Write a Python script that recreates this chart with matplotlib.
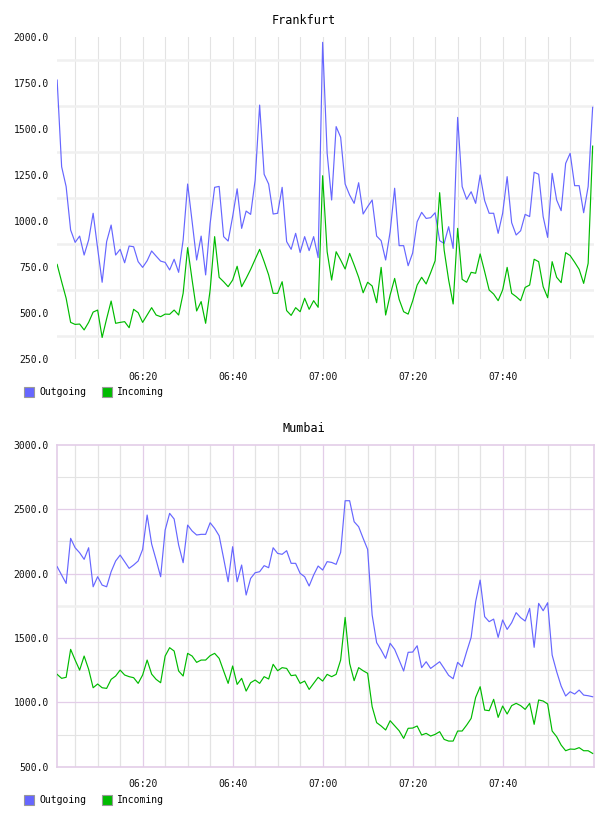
import pandas as pd
import matplotlib
matplotlib.use('Agg')
import matplotlib.pyplot as plt
import matplotlib.dates as mdates
from matplotlib.patches import Rectangle

plt.rcParams['font.family'] = 'DejaVu Sans Mono'

# one sample per minute, 06:01 .. 08:00
times = pd.date_range('2024-01-01 06:01', periods=120, freq='min')

fra_out = [1766, 1295, 1187, 951, 884, 918, 815, 897, 1042, 851,
           667, 888, 978, 815, 846, 773, 864, 860, 779, 748,
           784, 837, 809, 782, 775, 734, 792, 721, 897, 1201,
           996, 788, 918, 707, 987, 1183, 1188, 915, 891, 1024,
           1175, 960, 1054, 1036, 1222, 1630, 1254, 1201, 1038, 1042,
           1183, 888, 846, 933, 829, 915, 839, 915, 801, 1971,
           1368, 1114, 1513, 1455, 1201, 1141, 1096, 1208, 1038, 1078,
           1114, 918, 893, 788, 942, 1178, 866, 866, 757, 826,
           996, 1047, 1014, 1018, 1045, 893, 878, 969, 851, 1563,
           1187, 1118, 1159, 1096, 1250, 1111, 1042, 1042, 933, 1042,
           1241, 991, 924, 947, 1036, 1024, 1265, 1254, 1024, 911,
           1259, 1114, 1056, 1313, 1368, 1192, 1192, 1045, 1187, 1618]

fra_in = [764, 670, 580, 449, 438, 440, 408, 449, 505, 516,
          367, 469, 565, 444, 449, 453, 420, 520, 502, 449,
          489, 529, 489, 480, 494, 493, 516, 489, 607, 855,
          679, 511, 562, 444, 625, 915, 694, 670, 643, 679,
          754, 643, 688, 737, 792, 846, 779, 707, 607, 607,
          670, 513, 487, 529, 507, 580, 520, 567, 531, 1246,
          833, 679, 833, 788, 739, 824, 761, 694, 610, 667,
          647, 556, 748, 489, 598, 688, 574, 507, 494, 565,
          652, 694, 658, 719, 784, 1154, 842, 679, 549, 960,
          683, 667, 721, 716, 821, 725, 625, 603, 567, 625,
          748, 607, 589, 567, 639, 652, 792, 779, 643, 583,
          779, 694, 665, 828, 812, 776, 737, 661, 770, 1407]

mum_out = [2053, 1988, 1923, 2273, 2200, 2161, 2110, 2200, 1897, 1975,
           1910, 1897, 2014, 2097, 2143, 2092, 2040, 2066, 2097, 2187,
           2454, 2229, 2105, 1975, 2337, 2467, 2423, 2221, 2084, 2376,
           2330, 2299, 2304, 2304, 2394, 2350, 2293, 2117, 1936, 2208,
           1936, 2066, 1833, 1962, 2006, 2014, 2061, 2045, 2200, 2156,
           2149, 2177, 2079, 2079, 2001, 1975, 1903, 1988, 2058, 2027,
           2092, 2086, 2071, 2164, 2565, 2565, 2402, 2363, 2273, 2187,
           1678, 1463, 1406, 1341, 1458, 1411, 1328, 1243, 1388, 1390,
           1439, 1269, 1315, 1263, 1289, 1315, 1263, 1209, 1183, 1310,
           1276, 1393, 1504, 1781, 1949, 1665, 1626, 1646, 1504, 1639,
           1566, 1618, 1696, 1657, 1631, 1729, 1427, 1768, 1711, 1773,
           1367, 1238, 1126, 1049, 1082, 1064, 1095, 1056, 1051, 1043]

mum_in = [1217, 1186, 1194, 1411, 1328, 1250, 1359, 1256, 1113, 1142,
          1113, 1108, 1178, 1204, 1250, 1212, 1199, 1191, 1147, 1212,
          1328, 1219, 1178, 1152, 1359, 1424, 1398, 1243, 1204, 1380,
          1359, 1310, 1328, 1328, 1362, 1380, 1341, 1243, 1147, 1282,
          1139, 1186, 1087, 1152, 1173, 1147, 1199, 1181, 1295, 1245,
          1269, 1263, 1207, 1212, 1147, 1165, 1100, 1147, 1194, 1165,
          1217, 1199, 1217, 1328, 1659, 1302, 1168, 1269, 1245, 1225,
          966, 842, 816, 785, 857, 818, 779, 720, 798, 800,
          816, 746, 759, 738, 751, 772, 712, 699, 699, 777,
          777, 823, 875, 1038, 1121, 940, 935, 1023, 883, 971,
          909, 974, 992, 974, 945, 992, 829, 1018, 1010, 987,
          777, 733, 668, 624, 637, 635, 648, 624, 624, 603]

fra_yticks = [250, 500, 750, 1000, 1250, 1500, 1750, 2000]
mum_yticks = [500, 1000, 1500, 2000, 2500, 3000]

BLUE = '#6666ff'
GREEN = '#00bb00'
PURPLE = '#e3cde8'
GREY = '#e3e3e3'
PALE = '#f0f0f0'

W, H = 608, 816
fig = plt.figure(figsize=(W / 100, H / 100), dpi=100)
fig.patch.set_facecolor('white')


def make_axes(top, bottom):
    return fig.add_axes([57 / W, 1 - bottom / H, 537 / W, (bottom - top) / H])


ax1 = make_axes(37, 359)
ax2 = make_axes(444.7, 766.7)

t0 = mdates.date2num(times[0])
t1 = mdates.date2num(times[-1])
five = pd.date_range('2024-01-01 06:05', '2024-01-01 07:55', freq='5min')
labeled = pd.date_range('2024-01-01 06:20', '2024-01-01 07:40', freq='20min')

for ax in (ax1, ax2):
    ax.set_xlim(t0 - 0.03 / 1440, t1 + 0.3 / 1440)
    ax.set_xticks(mdates.date2num(labeled))
    ax.xaxis.set_major_formatter(mdates.DateFormatter('%H:%M'))
    ax.tick_params(length=0, labelsize=7, colors='#111111')
    ax.tick_params(axis='x', pad=9)
    ax.tick_params(axis='y', pad=6)
    ax.yaxis.set_major_formatter(lambda v, p: '%.1f' % v)
    for s in ax.spines.values():
        s.set_visible(False)

# Frankfurt
ax1.set_ylim(250, 2000)
ax1.set_yticks(fra_yticks)
for t in five:
    ax1.axvline(t, color=GREY, lw=0.8, zorder=0)
for v in [375, 625, 875, 1125, 1375, 1625, 1875]:
    ax1.axhline(v, color=PALE, lw=1.8, zorder=0)
ax1.plot(times, fra_out, color=BLUE, lw=0.85, zorder=3)
ax1.plot(times, fra_in, color=GREEN, lw=0.85, zorder=3)

# Mumbai
ax2.set_ylim(500, 3000)
ax2.set_yticks(mum_yticks)
for t in five:
    c = PURPLE if t in labeled else GREY
    ax2.axvline(t, color=c, lw=0.9, zorder=0)
for v in [750, 1250, 2250, 2750]:
    ax2.axhline(v, color=GREY, lw=0.8, zorder=0)
for v in [1000, 1500, 2000, 2500]:
    ax2.axhline(v, color=PURPLE, lw=0.9, zorder=0)
ax2.axhline(1750, color=PALE, lw=1.8, zorder=0)
for s in ax2.spines.values():
    s.set_visible(True)
    s.set_color(PURPLE)
    s.set_linewidth(1.2)
ax2.plot(times, mum_out, color=BLUE, lw=0.85, zorder=3)
ax2.plot(times, mum_in, color=GREEN, lw=0.85, zorder=3)

# titles
fig.text(0.5, 1 - 20 / H, 'Frankfurt', ha='center', va='center', fontsize=8.5)
fig.text(0.5, 1 - 428 / H, 'Mumbai', ha='center', va='center', fontsize=8.5)


def legend(y):
    for x, col, name in [(24, BLUE, 'Outgoing'), (102, GREEN, 'Incoming')]:
        fig.patches.append(Rectangle((x / W, 1 - (y + 5) / H), 10 / W, 10 / H,
                                     facecolor=col, edgecolor='#999999', lw=0.8,
                                     transform=fig.transFigure, figure=fig))
        fig.text((x + 15) / W, 1 - y / H, name, ha='left', va='center', fontsize=7)


legend(392)
legend(800)

fig.savefig('out.png', dpi=100)
